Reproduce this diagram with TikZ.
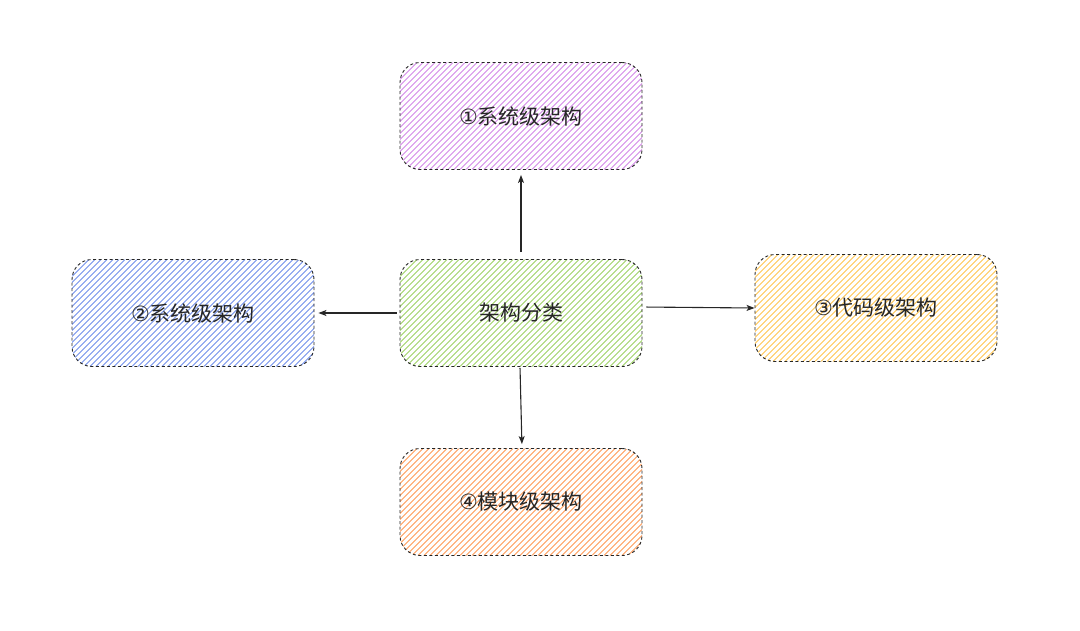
\documentclass[tikz,border=0pt]{standalone}
\usepackage{fontspec}
\setmainfont{Noto Sans CJK SC}
\newfontfamily\circfont{DejaVu Sans}
\usetikzlibrary{arrows.meta}
\definecolor{hpurple}{HTML}{D48AE8}
\definecolor{hgreen}{HTML}{9ED266}
\definecolor{hyellow}{HTML}{FFC652}
\definecolor{horange}{HTML}{FF9C58}
\definecolor{hblue}{HTML}{7390EA}
\begin{document}
\begin{tikzpicture}[x=1pt,y=-1pt,
  box/.style={draw=black!85, dash pattern=on 3pt off 2.5pt, line width=0.9pt, rounded corners=20pt,
    minimum width=242pt, minimum height=107pt, font=\fontsize{21}{24}\selectfont, text=black!85, inner sep=0pt,
    path picture={\foreach \i in {-114,-108,...,246}
      \draw[#1, solid, line width=0.75pt] ([xshift=\i pt]path picture bounding box.south west) -- ++(112pt,112pt);}},
  arr/.style={-{Stealth[length=8pt,width=6pt,inset=2pt]}, line width=1.1pt, draw=black!85}]
\useasboundingbox (0,0) rectangle (1080,630);
\node[box=hpurple] (top) at (521,116) {{\circfont ①}系统级架构};
\node[box=hblue] (left) at (193,313) {{\circfont ②}系统级架构};
\node[box=hgreen] (mid) at (521,313) {架构分类};
\node[box=hyellow] (right) at (876,308) {{\circfont ③}代码级架构};
\node[box=horange] (bot) at (521,502) {{\circfont ④}模块级架构};
\draw[arr, shorten <=7pt, shorten >=5pt] (mid.north) -- (top.south);
\draw[arr, shorten <=3pt, shorten >=4pt] (mid.west) -- (left.east);
\draw[arr, shorten <=4pt] ([yshift=6pt]mid.east) -- (right.west);
\draw[arr, shorten <=1pt, shorten >=4pt] ([xshift=-1pt]mid.south) -- ([xshift=1pt]bot.north);
\end{tikzpicture}
\end{document}
